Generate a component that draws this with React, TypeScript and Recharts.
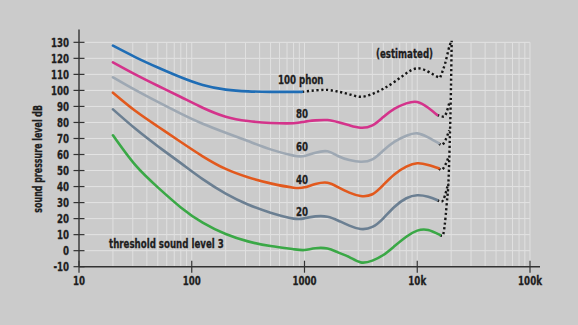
import React from 'react';
import { LineChart, Line, XAxis, YAxis, ReferenceLine } from 'recharts';

// ---- data ----
const FREQ_TICKS = [10, 100, 1000, 10000, 100000];
const FREQ_TICK_LABELS = ['10', '100', '1000', '10k', '100k'];
const DB_TICKS = [-10, 0, 10, 20, 30, 40, 50, 60, 70, 80, 90, 100, 110, 120, 130];
const GRID_FREQS = [
  20, 30, 40, 50, 60, 70, 80, 90, 100,
  200, 300, 400, 500, 600, 700, 800, 900, 1000,
  2000, 3000, 4000, 5000, 6000, 7000, 8000, 9000, 10000,
  20000, 30000, 40000, 50000, 60000, 70000, 80000, 90000, 100000,
];

const phon100: [number, number][] = [
  [20, 127.9], [31.5, 120.8], [50, 114.3], [80, 108.2], [125, 103.4], [200, 100.5], [315, 99.4], [500, 99.1],
  [800, 99.1], [950, 99.1],
];
const phon100Estimated: [number, number][] = [
  [950, 99.1], [1250, 100], [1600, 100.3], [2000, 99.2], [2500, 97.6], [3150, 96], [4000, 97.8], [5000, 101],
  [6300, 105.4], [8000, 110.7], [10000, 113.8], [12500, 111.7], [15000, 108.6], [16000, 108.2],
];
const phon100EstimatedRise: [number, number][] = [[16000, 108.2], [17700, 117], [19400, 128], [20200, 131]];
const phon80: [number, number][] = [
  [20, 117.5], [31.5, 110], [50, 102.9], [80, 95.9], [125, 89.2], [200, 83.6], [315, 80.9], [500, 79.7], [800, 79.5],
  [1000, 80.5], [1250, 81.3], [1600, 81.5], [2000, 80.1], [2500, 78.2], [3150, 76.7], [4000, 78.2], [5000, 83.4],
  [6300, 88.6], [8000, 91.9], [10000, 92.8], [12500, 89.2], [15000, 84.7],
];
const phon60: [number, number][] = [
  [20, 108.2], [31.5, 100.3], [50, 92.8], [80, 85.5], [125, 79.2], [200, 73.6], [315, 68.4], [500, 63.2], [800, 59.3],
  [1000, 59.1], [1250, 61.1], [1600, 62], [2000, 58.9], [2500, 56.6], [3150, 55.5], [4000, 57], [5000, 62.5],
  [6300, 68], [8000, 71.7], [10000, 73.2], [12500, 70.7], [15500, 67],
];
const phon40: [number, number][] = [
  [20, 98.6], [31.5, 87.3], [50, 77.5], [80, 67.8], [125, 58.9], [200, 51], [315, 45.8], [500, 42], [800, 39.3],
  [1000, 39.5], [1250, 41.6], [1600, 42.4], [2000, 39.5], [2500, 36.2], [3150, 34.1], [4000, 35.2], [5000, 41],
  [6300, 47.7], [8000, 52.4], [10000, 54.5], [12500, 53.5], [15500, 51.4],
];
const phon20: [number, number][] = [
  [20, 88.2], [31.5, 76.2], [50, 65.2], [80, 54.6], [125, 44.6], [200, 35.6], [315, 28.8], [500, 23.7], [800, 20],
  [1000, 20.2], [1250, 21.4], [1600, 21.2], [2000, 18.7], [2500, 15.6], [3150, 13.5], [4000, 14.8], [5000, 20.2],
  [6300, 27.4], [8000, 32.7], [10000, 34.6], [12500, 33.7], [15000, 31.6],
];
const threshold: [number, number][] = [
  [20, 72], [31.5, 53.5], [50, 39.5], [80, 27], [125, 17.5], [200, 10.4], [315, 5.8], [500, 2.9], [800, 0.9],
  [1000, 0.4], [1250, 1.5], [1600, 1.3], [2000, -1.2], [2500, -4], [3150, -7.3], [4000, -6.2], [5000, -2.7],
  [6300, 2.9], [8000, 8.7], [10000, 12.5], [12500, 12.9], [15900, 9.8],
];
const estimatedVertical: [number, number][] = [
  [15900, 9.8], [16700, 9.2], [18300, 30], [19000, 46], [19400, 67], [19800, 92], [20000, 110], [20200, 131],
];
const est80: [number, number][] = [[15000, 84.7], [17200, 83.6], [19200, 92]];
const est60: [number, number][] = [[15500, 67], [16400, 66], [19200, 75]];
const est40: [number, number][] = [[15500, 51.4], [16300, 50.4], [19000, 58.6]];
const est20: [number, number][] = [[15000, 31.6], [16400, 30.6], [18800, 42]];

const toRows = (pts: [number, number][]) => pts.map(([f, db]) => ({ f, db }));

const COLORS = {
  p100: '#1f6db5',
  p80: '#d4338b',
  p60: '#9ea8b3',
  p40: '#e2591d',
  p20: '#6b7f92',
  thr: '#3aa846',
  dots: '#151515',
};

const FONT = "'Liberation Sans Narrow', 'DejaVu Sans Condensed', 'Arial Narrow', sans-serif";
const TEXT = '#1e1e1e';
const SX = 0.77;

const NText = ({ x, y, size = 12.5, anchor = 'start', rotate = 0, sx = SX, children }: any) => (
  <text
    transform={`translate(${x} ${y}) rotate(${rotate}) scale(${sx} 1)`}
    textAnchor={anchor}
    fontFamily={FONT}
    fontWeight="bold"
    fontSize={size}
    fill={TEXT}
    stroke={TEXT}
    strokeWidth={0.3}
  >
    {children}
  </text>
);

const XTick = (props: any) => {
  const { x, y, payload } = props;
  const i = FREQ_TICKS.indexOf(payload.value);
  return (
    <g>
      <line x1={x} x2={x} y1={y - 6} y2={y + 6} stroke="#333" strokeWidth={1.2} />
      <NText x={x} y={y + 18.5} size={12.5} anchor="middle">
        {i >= 0 ? FREQ_TICK_LABELS[i] : payload.value}
      </NText>
    </g>
  );
};

const YTick = (props: any) => {
  const { x, y, payload } = props;
  return (
    <g>
      <line x1={x - 5.5} x2={x + 5.5} y1={y} y2={y} stroke="#333" strokeWidth={1.2} />
      <NText x={x - 10} y={y + 4.5} size={12.5} anchor="end">
        {payload.value}
      </NText>
    </g>
  );
};

const W = 578;
const H = 325;

export default function App() {
  const solid = (pts: [number, number][], color: string, key: string) => (
    <Line
      key={key}
      data={toRows(pts)}
      dataKey="db"
      type="natural"
      stroke={color}
      strokeWidth={2.6}
      dot={false}
      isAnimationActive={false}
      strokeLinecap="round"
    />
  );
  const dotted = (pts: [number, number][], key: string, type: any = 'monotone') => (
    <Line
      key={key}
      data={toRows(pts)}
      dataKey="db"
      type={type}
      stroke={COLORS.dots}
      strokeWidth={2.4}
      strokeDasharray="2.2 2.6"
      dot={false}
      isAnimationActive={false}
    />
  );
  return (
    <div style={{ position: 'absolute', left: 0, top: 0, width: W, height: H, background: '#cbcbcb' }}>
      <LineChart width={W} height={H} margin={{ top: 29.5, right: 38, left: 0, bottom: 28.3 }}>
        <XAxis
          type="number"
          dataKey="f"
          scale="log"
          domain={[10, 122660]}
          allowDataOverflow
          ticks={FREQ_TICKS}
          interval={0}
          tickSize={0}
          tickMargin={0}
          tickLine={false}
          tick={<XTick />}
          height={30}
          axisLine={{ stroke: '#333', strokeWidth: 1.4 }}
        />
        <YAxis
          type="number"
          domain={[-10, 138]}
          allowDataOverflow
          ticks={DB_TICKS}
          interval={0}
          tickSize={0}
          tickMargin={0}
          tickLine={false}
          tick={<YTick />}
          width={79}
          axisLine={{ stroke: '#333', strokeWidth: 1.4 }}
        />
        {DB_TICKS.filter((v) => v > -10).map((v) => (
          <ReferenceLine
            key={'h' + v}
            segment={[{ x: 10, y: v }, { x: 100000, y: v }]}
            stroke="#e3e3e3"
            strokeWidth={1}
          />
        ))}
        {GRID_FREQS.map((f) => (
          <ReferenceLine
            key={'v' + f}
            segment={[{ x: f, y: -10 }, { x: f, y: 130 }]}
            stroke="#e0e0e0"
            strokeWidth={1}
          />
        ))}
        {dotted(phon100Estimated, 'e100', 'natural')}
        {dotted(phon100EstimatedRise, 'e100r')}
        {dotted(estimatedVertical, 'ev')}
        {dotted(est80, 'e80')}
        {dotted(est60, 'e60')}
        {dotted(est40, 'e40')}
        {dotted(est20, 'e20')}
        {solid(threshold, COLORS.thr, 'thr')}
        {solid(phon20, COLORS.p20, 'p20')}
        {solid(phon40, COLORS.p40, 'p40')}
        {solid(phon60, COLORS.p60, 'p60')}
        {solid(phon80, COLORS.p80, 'p80')}
        {solid(phon100, COLORS.p100, 'p100')}
      </LineChart>
      <svg width={W} height={H} style={{ position: 'absolute', left: 0, top: 0, pointerEvents: 'none' }}>
        <NText x={278} y={84}>100 phon</NText>
        <NText x={296} y={118}>80</NText>
        <NText x={296} y={150.5}>60</NText>
        <NText x={296} y={184}>40</NText>
        <NText x={296} y={216}>20</NText>
        <NText x={109} y={248}>threshold sound level 3</NText>
        <NText x={376} y={58}>(estimated)</NText>
        <NText x={41.5} y={158.8} size={12} anchor="middle" rotate={-90} sx={0.735}>
          sound pressure level dB
        </NText>
      </svg>
    </div>
  );
}
